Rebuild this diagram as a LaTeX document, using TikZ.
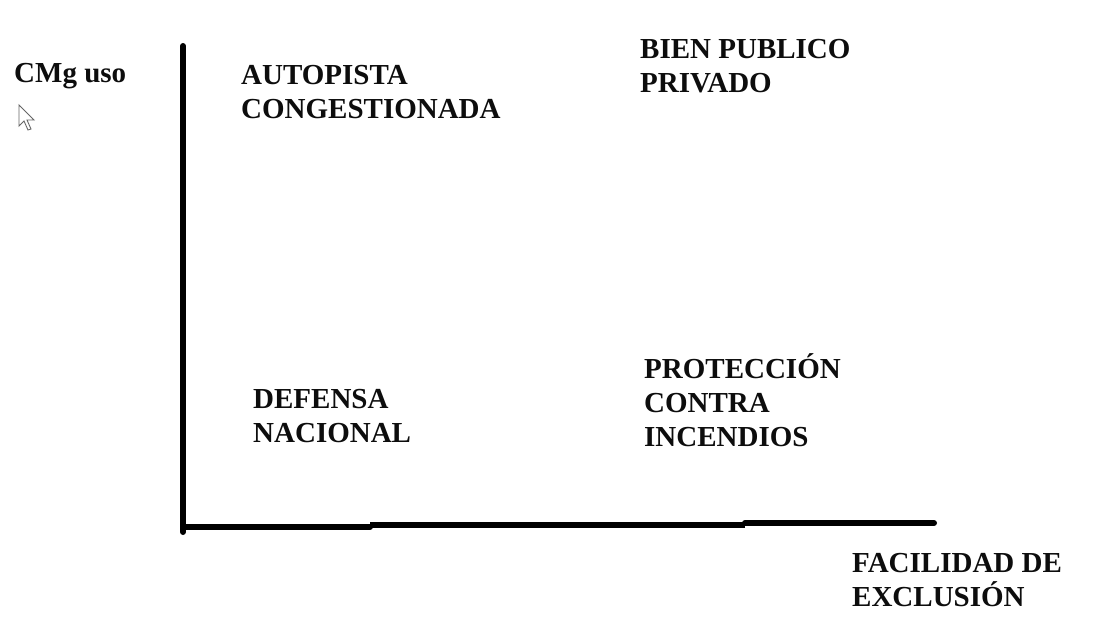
\documentclass[tikz,border=0pt]{standalone}
\usepackage{fontspec}
\setmainfont{Liberation Serif}
\begin{document}
\begin{tikzpicture}[x=1pt,y=-1pt,
  lbl/.style={anchor=base west,inner sep=0pt,align=left,text=black!95,
    font=\fontsize{29}{34}\selectfont\bfseries},
  axis/.style={line width=6pt,line cap=round,black}]
\useasboundingbox[fill=white] (0,0) rectangle (1103,624);
% axes
\coordinate (O) at (183,527);
\coordinate (ytop) at (183,46);
\coordinate (ybot) at (183,532);
\coordinate (x1) at (370,527);
\coordinate (x2) at (370,525);
\coordinate (x3) at (745,525);
\coordinate (x4) at (745,523);
\coordinate (xend) at (934,523);
\draw[axis] (ytop) -- (ybot);
\draw[axis] (O) -- (x1);
\draw[axis,line cap=butt] (x2) -- (x3);
\draw[axis] (x4) -- (xend);
% labels (anchor = baseline of last line)
\node[lbl] (cmg) at (14,82) {CMg uso};
\node[lbl] (auto) at (241,118) {AUTOPISTA\\CONGESTIONADA};
\node[lbl] (bien) at (640,92) {BIEN PUBLICO\\PRIVADO};
\node[lbl] (def) at (253,442) {DEFENSA\\NACIONAL};
\node[lbl] (prot) at (644,446) {PROTECCIÓN\\CONTRA\\INCENDIOS};
\node[lbl] (fac) at (852,606) {FACILIDAD DE\\EXCLUSIÓN};
% mouse cursor
\draw[fill=white,draw=black!60,line width=0.9pt,line join=miter]
  (19,105) -- (19,126) -- (24,121) -- (28,130) -- (31,129) -- (27,120) -- (34,120) -- cycle;
\end{tikzpicture}
\end{document}
